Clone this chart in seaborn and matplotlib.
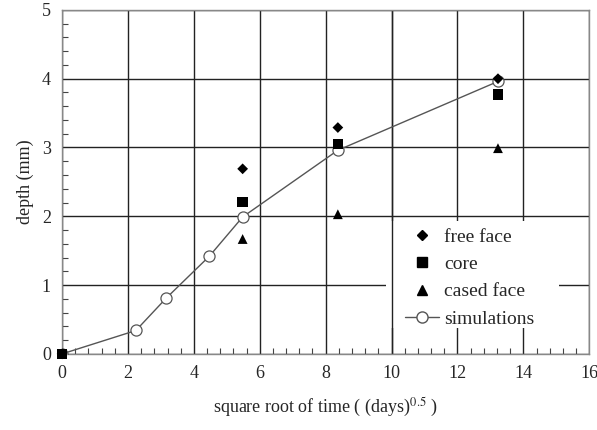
import numpy as np
import pandas as pd
import matplotlib.pyplot as plt
import seaborn as sns
from matplotlib.ticker import MultipleLocator
from matplotlib.lines import Line2D
from matplotlib.patches import Rectangle

# values (x = sqrt of days)
sim_x = [0.0, 2.24, 3.16, 4.47, 5.48, 8.37, 13.23]
sim_y = [0.0, 0.34, 0.81, 1.42, 1.99, 2.96, 3.96]

meas_x = [0.0, 5.48, 8.37, 13.23]
free_face = [0.0, 2.69, 3.29, 4.00]
core = [0.0, 2.21, 3.05, 3.77]
cased_face = [0.0, 1.67, 2.03, 2.99]

sns.set_style('white')
plt.rcParams['font.family'] = ['Liberation Serif', 'DejaVu Serif']
plt.rcParams['mathtext.fontset'] = 'stix'

fig = plt.figure(figsize=(5.97, 4.30), dpi=100)
ax = fig.add_axes([0.104, 0.177, 0.883, 0.8])

sim = pd.DataFrame({'x': sim_x, 'y': sim_y})
sns.lineplot(data=sim, x='x', y='y', ax=ax, color='#555555', lw=1.0,
             marker='o', markersize=8, markerfacecolor='white',
             markeredgecolor='#555555', markeredgewidth=0.9, zorder=3)

sns.scatterplot(x=meas_x, y=free_face, ax=ax, marker='D', s=30, color='black',
                edgecolor='none', zorder=4, clip_on=False)
sns.scatterplot(x=meas_x, y=core, ax=ax, marker='s', s=55, color='black',
                edgecolor='none', zorder=4, clip_on=False)
sns.scatterplot(x=meas_x, y=cased_face, ax=ax, marker='^', s=50, color='black',
                edgecolor='none', zorder=4, clip_on=False)

ax.set_xlim(0, 16)
ax.set_ylim(0, 5)
ax.xaxis.set_major_locator(MultipleLocator(2))
ax.xaxis.set_minor_locator(MultipleLocator(0.4))
ax.yaxis.set_major_locator(MultipleLocator(1))
ax.yaxis.set_minor_locator(MultipleLocator(0.2))
ax.grid(True, which='major', color='#222222', lw=1.0)
ax.set_axisbelow(True)
ax.tick_params(which='major', length=0, labelsize=13, pad=8)
ax.tick_params(which='minor', direction='in', length=4, width=0.8,
               color='#444444', bottom=True, left=True)
for s in ax.spines.values():
    s.set_color('#888888')
    s.set_linewidth(1.0)

# white patch behind the legend (hides grid), the x=10 gridline stays visible
ax.add_patch(Rectangle((0.615, 0.075), 0.328, 0.31, transform=ax.transAxes,
                       facecolor='white', edgecolor='none', zorder=0.7))
ax.axvline(10, color='#222222', lw=1.0, zorder=0.8)

ax.set_xlabel(r'square root of time ( (days)$^{0.5}$ )', fontsize=13, labelpad=10)
ax.set_ylabel('depth (mm)', fontsize=13, labelpad=6)

handles = [
    Line2D([], [], ls='none', marker='D', ms=5, color='black'),
    Line2D([], [], ls='none', marker='s', ms=7, color='black'),
    Line2D([], [], ls='none', marker='^', ms=7, color='black'),
    Line2D([], [], color='#555555', lw=1.0, marker='o', ms=8,
           markerfacecolor='white', markeredgecolor='#555555'),
]
leg = ax.legend(handles, ['free face', 'core', 'cased face', 'simulations'],
                loc='lower left', bbox_to_anchor=(0.62, 0.028), fontsize=14,
                frameon=False, handlelength=1.7, handletextpad=0.3,
                labelspacing=0.5, borderpad=0.35)
leg.set_zorder(5)

fig.savefig('out.png', dpi=100)
